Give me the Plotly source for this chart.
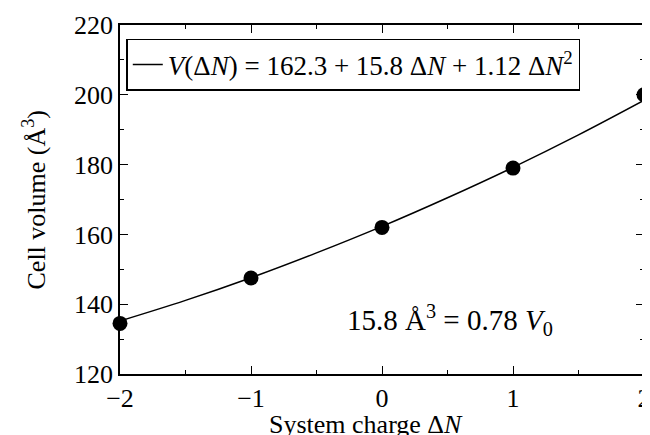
import plotly.graph_objects as go

# Data points
charge = [-2, -1, 0, 1, 2]
volume = [134.5, 147.5, 162.0, 179.0, 200.0]

# Fitted curve at several charges
curve_x = [-2.0, -1.5, -1.0, -0.5, 0.0, 0.5, 1.0, 1.5, 2.0]
curve_y = [135.2, 141.1, 147.6, 154.7, 162.3, 170.5, 179.2, 188.5, 198.4]

x_ticks = [-2, -1, 0, 1, 2]
x_tick_text = ["−2", "−1", "0", "1", "2"]

legend_label = "<i>V</i>(Δ<i>N</i>) = 162.3 + 15.8 Δ<i>N</i> + 1.12 Δ<i>N</i><sup>2</sup>"
note_text = "15.8 Å<sup>3</sup> = 0.78 <i>V</i><sub>0</sub>"
x_title = "System charge Δ<i>N</i>"
y_title = "Cell volume (Å<sup>3</sup>)"

font_family = "Liberation Serif"

L, R, T, B = 112, 14, 17, 69
W, H = 650, 435
pw, ph = W - L - R, H - T - B

fig = go.Figure()
fig.add_trace(go.Scatter(
    x=curve_x, y=curve_y, mode="lines", line=dict(color="black", width=1.5, shape="spline"),
    name=legend_label, showlegend=True))
fig.add_trace(go.Scatter(
    x=charge, y=volume, mode="markers", marker=dict(color="black", size=15),
    showlegend=False, cliponaxis=False))

fig.add_annotation(
    x=0.52, y=135.5, xref="x", yref="y", showarrow=False,
    text=note_text, font=dict(family=font_family, size=29, color="black"))

# axis titles as annotations for exact placement
fig.add_annotation(
    x=(358 - L) / pw, y=-(400 - (H - B)) / ph, xref="paper", yref="paper",
    xanchor="center", yanchor="top", showarrow=False,
    text=x_title, font=dict(family=font_family, size=26, color="black"))
fig.add_annotation(
    x=(27 - L) / pw, y=0.5, xref="paper", yref="paper",
    xanchor="center", yanchor="middle", showarrow=False, textangle=-90,
    text=y_title, font=dict(family=font_family, size=26, color="black"))

axis_common = dict(
    showgrid=False, zeroline=False, showline=True, linecolor="black", linewidth=1.5,
    mirror="ticks", ticks="inside", ticklen=8, tickcolor="black", tickwidth=1,
    tickfont=dict(family=font_family, size=26, color="black"), automargin=False,
)

fig.update_layout(
    width=W, height=H,
    margin=dict(l=L, r=R, t=T, b=B),
    paper_bgcolor="white", plot_bgcolor="white",
    font=dict(family=font_family, color="black"),
    xaxis=dict(range=[-2, 2], tickvals=x_ticks, ticktext=x_tick_text,
               minor=dict(dtick=0.5, ticks="inside", ticklen=4, tickcolor="black"),
               **axis_common),
    yaxis=dict(range=[120, 220], dtick=20,
               minor=dict(dtick=10, ticks="inside", ticklen=4, tickcolor="black"),
               **axis_common),
    legend=dict(x=0.012, y=0.96, xanchor="left", yanchor="top",
                bordercolor="black", borderwidth=1.5, bgcolor="white",
                font=dict(family=font_family, size=27, color="black")),
)

fig.write_html("out.html")
